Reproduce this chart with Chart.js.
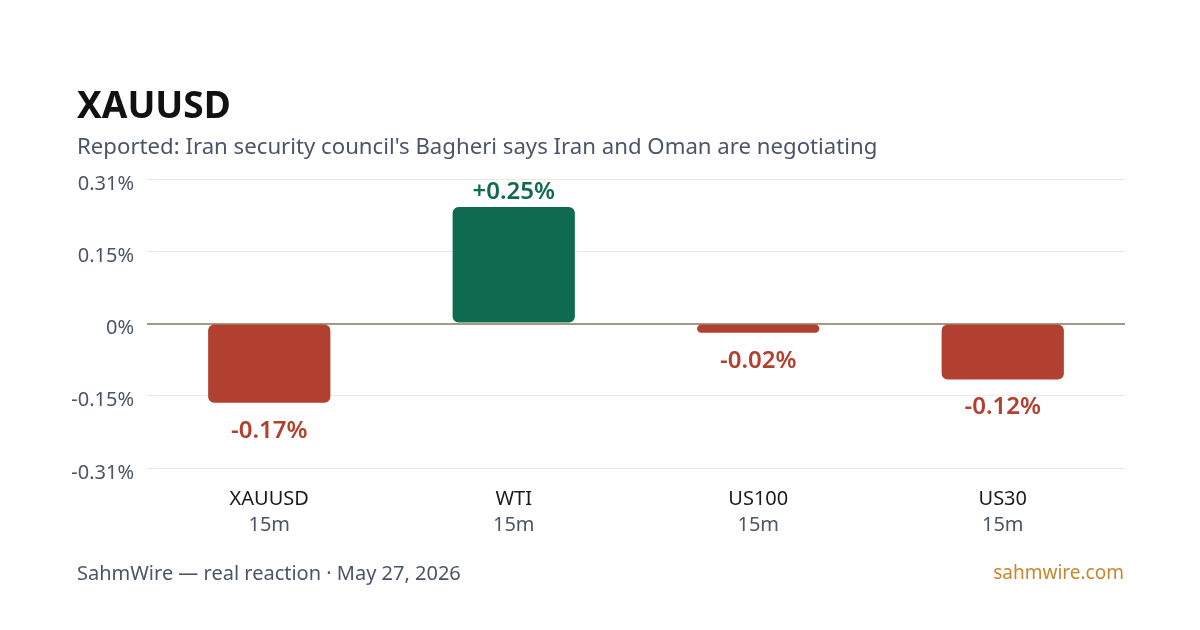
<!DOCTYPE html>
<html>
<head>
<meta charset="utf-8">
<script src="https://cdn.jsdelivr.net/npm/chart.js@4/dist/chart.umd.min.js"></script>
<style>
  body { margin: 0; width: 1200px; height: 630px; background: #fff; overflow: hidden; position: relative; font-family: "Noto Sans", sans-serif; }
  #grafico { position: absolute; left: 0; top: 0; }
  .txt { position: absolute; white-space: nowrap; line-height: 1; }
  #titulo { left: 77px; top: 85px; font-size: 37px; font-weight: 700; color: #111; }
  #sub { left: 77px; top: 135px; font-size: 22.2px; color: #4a5568; }
  #rodape { left: 77px; top: 563px; font-size: 20px; color: #4a5568; }
  #site { right: 76px; top: 563px; font-size: 19px; color: #c8872f; }
</style>
</head>
<body>
<canvas id="grafico" width="1200" height="630"></canvas>
<div id="titulo" class="txt">XAUUSD</div>
<div id="sub" class="txt">Reported: Iran security council's Bagheri says Iran and Oman are negotiating</div>
<div id="rodape" class="txt">SahmWire — real reaction · May 27, 2026</div>
<div id="site" class="txt">sahmwire.com</div>
<script>
// ========= Dados =========
const ativos = ["XAUUSD", "WTI", "US100", "US30"];
const janelas = ["15m", "15m", "15m", "15m"];
const variacoes = [-0.17, 0.25, -0.02, -0.12];
const ticksY = [-0.31, -0.155, 0, 0.155, 0.31];
const rotulosY = ["-0.31%", "-0.15%", "0%", "0.15%", "0.31%"];

// ========= Cores =========
const VERDE = "#0f6b4f";
const VERMELHO = "#b24030";
const cor = (v) => (v >= 0 ? VERDE : VERMELHO);

Chart.defaults.font.family = "'Noto Sans', sans-serif";

// rótulo de valor em cima/embaixo da barra
const rotulosValor = {
  id: "rotulosValor",
  afterDatasetsDraw(chart) {
    const ctx = chart.ctx;
    const meta = chart.getDatasetMeta(0);
    ctx.save();
    ctx.font = "600 24px 'Noto Sans', sans-serif";
    ctx.textAlign = "center";
    ctx.textBaseline = "middle";
    meta.data.forEach((bar, i) => {
      const v = variacoes[i];
      const txt = (v > 0 ? "+" : "") + v.toFixed(2) + "%";
      ctx.fillStyle = cor(v);
      ctx.fillText(txt, bar.x, v >= 0 ? bar.y - 15 : bar.y + 28);
    });
    ctx.restore();
  },
};

// rótulos do eixo x em duas linhas com cores diferentes
const rotulosX = {
  id: "rotulosX",
  afterDraw(chart) {
    const ctx = chart.ctx;
    const x = chart.scales.x;
    ctx.save();
    ctx.font = "20px 'Noto Sans', sans-serif";
    ctx.textAlign = "center";
    ctx.textBaseline = "middle";
    ativos.forEach((nome, i) => {
      const px = x.getPixelForValue(i);
      ctx.fillStyle = "#1a1a1a";
      ctx.fillText(nome, px, 499);
      ctx.fillStyle = "#4a5568";
      ctx.fillText(janelas[i], px, 525);
    });
    ctx.restore();
  },
};

function criar() {
  new Chart(document.getElementById("grafico"), {
    type: "bar",
    data: {
      labels: ativos,
      datasets: [{
        data: variacoes,
        backgroundColor: variacoes.map(cor),
        borderRadius: 6,
        borderSkipped: false,
        barPercentage: 1,
        categoryPercentage: 0.5,
      }],
    },
    options: {
      responsive: false,
      animation: false,
      layout: { padding: { left: 40, right: 75, top: 179, bottom: 162 } },
      plugins: { legend: { display: false }, tooltip: { enabled: false } },
      scales: {
        x: { display: false },
        y: {
          min: -0.31,
          max: 0.31,
          afterBuildTicks: (s) => { s.ticks = ticksY.map((v) => ({ value: v })); },
          afterFit: (s) => { s.width = 107; },
          border: { display: false },
          grid: {
            drawTicks: false,
            color: (c) => (c.tick && c.tick.value === 0 ? "#a09a87" : "#efeadf"),
            lineWidth: (c) => (c.tick && c.tick.value === 0 ? 2 : 1),
          },
          ticks: {
            padding: 13,
            color: "#4a5568",
            font: { size: 20, lineHeight: 0.5 },
            // linha vazia antes empurra o rótulo uns px pra baixo, como no original
            callback: (v, i) => ["", rotulosY[i]],
          },
        },
      },
    },
    plugins: [rotulosValor, rotulosX],
  });
}

if (document.fonts && document.fonts.load) {
  document.fonts.load("20px 'Noto Sans'").then(criar, criar);
} else {
  criar();
}
</script>
</body>
</html>
